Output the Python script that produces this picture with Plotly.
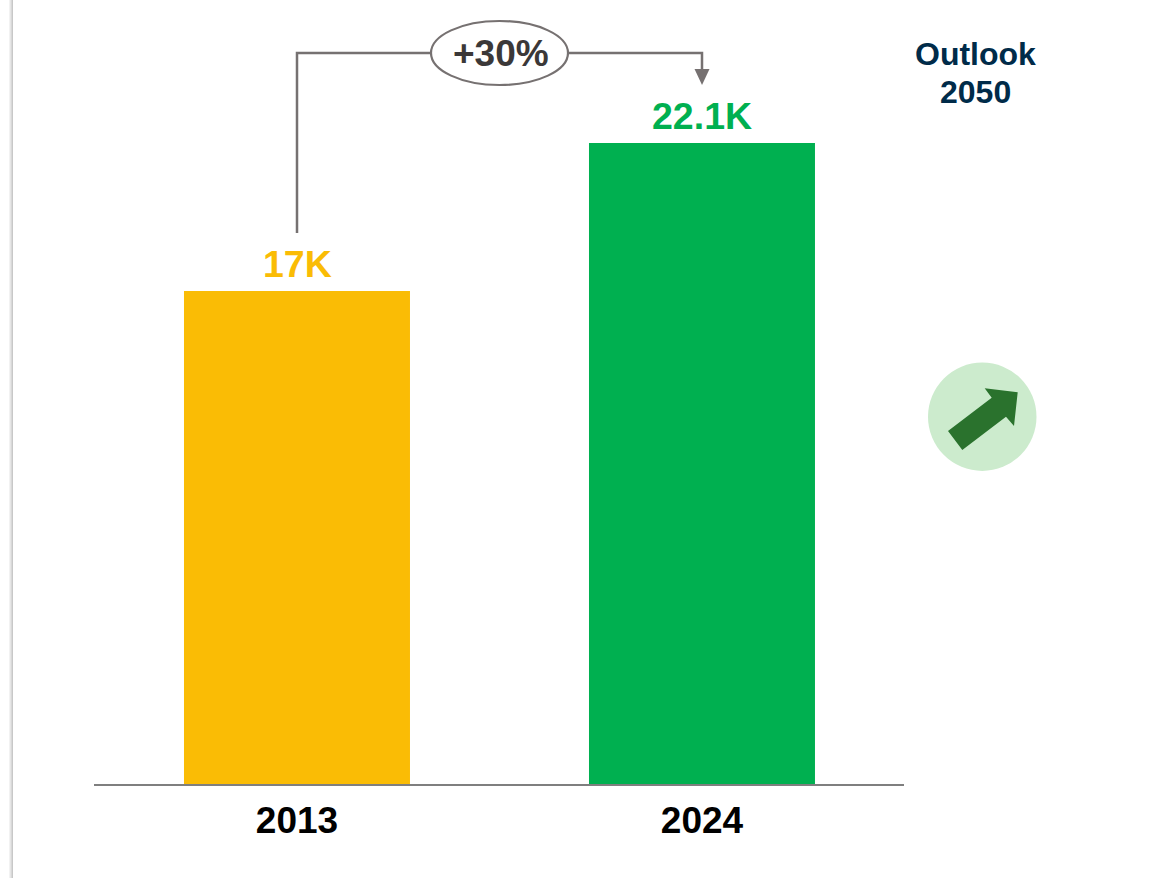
import plotly.graph_objects as go

years = ["2013", "2024"]
values = [17, 22.1]
value_labels = ["17K", "22.1K"]
bar_colors = ["#FABC05", "#00B050"]
change_label = "+30%"
outlook_lines = ["Outlook", "2050"]

W, H = 1152, 878
L, R, T, B = 94, 904, 0, 784
FONT = "Liberation Sans"


def px(x):
    return (x - L) / (R - L)


def py(y):
    return (B - y) / (B - T)


GRAY = "#767171"
shapes = []

# page edge shadow
for x0, x1, c in [(9, 10, "#F2F2F2"), (10, 11, "#E6E6E6"), (11, 12, "#D8D8D8"), (12, 13, "#C8C8C8")]:
    shapes.append(dict(type="rect", xref="paper", yref="paper", x0=px(x0), x1=px(x1), y0=py(H), y1=py(0),
                       line_width=0, fillcolor=c, layer="below"))

# connector
path = f"M {px(297)} {py(233)} L {px(297)} {py(53)} L {px(702)} {py(53)} L {px(702)} {py(70)}"
shapes.append(dict(type="path", xref="paper", yref="paper", path=path, line=dict(color=GRAY, width=2.5)))
shapes.append(dict(type="path", xref="paper", yref="paper",
                   path=f"M {px(694.5)} {py(69)} L {px(709.5)} {py(69)} L {px(702)} {py(85)} Z",
                   fillcolor=GRAY, line_width=0))
shapes.append(dict(type="circle", xref="paper", yref="paper", x0=px(431), x1=px(568), y0=py(85), y1=py(21),
                   fillcolor="white", line=dict(color=GRAY, width=2.2)))

# outlook badge
shapes.append(dict(type="circle", xref="paper", yref="paper", x0=px(928), x1=px(1036.5), y0=py(471), y1=py(362.5),
                   fillcolor="#CCEBCD", line_width=0))
arrow_pts = [(948, 431), (962.3, 450), (1006, 416.7), (1014, 426), (1017.7, 392.3), (984.7, 388.3), (991.7, 397.7)]
shapes.append(dict(type="path", xref="paper", yref="paper",
                   path="M " + " L ".join(f"{px(a)} {py(b)}" for a, b in arrow_pts) + " Z",
                   fillcolor="#2A722D", line_width=0))

annotations = [
    dict(xref="paper", yref="paper", x=px(500.5), y=py(53.5), text=f"<b>{change_label}</b>", showarrow=False,
         font=dict(family=FONT, size=37, color="#3B3838"), xanchor="center", yanchor="middle"),
]
for line, yc in zip(outlook_lines, [54, 92]):
    annotations.append(dict(xref="paper", yref="paper", x=px(975.5), y=py(yc), text=f"<b>{line}</b>",
                            showarrow=False, font=dict(family=FONT, size=32, color="#002B49"),
                            xanchor="center", yanchor="middle"))
for i, (value, label, color) in enumerate(zip(values, value_labels, bar_colors)):
    annotations.append(dict(x=i, y=value, xref="x", yref="y", text=f"<b>{label}</b>", showarrow=False,
                            xanchor="center", yanchor="bottom", yshift=4, xshift=0.5,
                            font=dict(family=FONT, size=37.5, color=color)))

fig = go.Figure(go.Bar(
    x=years, y=values, width=0.558,
    marker=dict(color=bar_colors, line_width=0),
    cliponaxis=False, hoverinfo="skip",
))

fig.update_layout(
    width=W, height=H, margin=dict(l=L, r=W - R, t=T, b=H - B, pad=0),
    paper_bgcolor="white", plot_bgcolor="white", showlegend=False,
    shapes=shapes, annotations=annotations,
    font=dict(family=FONT),
)
fig.update_xaxes(type="category", range=[-0.5012, 1.4988], showgrid=False, zeroline=False, showline=True,
                 linecolor="#7F7F7F", linewidth=2, ticks="", ticklabelstandoff=3,
                 tickvals=years, ticktext=[f"<b>{y}</b>" for y in years],
                 tickfont=dict(family=FONT, size=37, color="#000000"))
fig.update_yaxes(range=[0, 784 / 29], visible=False, showgrid=False, zeroline=False)

fig.write_html("out.html", config=dict(displayModeBar=False),
               post_script="document.body.style.margin='0';document.body.style.overflow='hidden';")
